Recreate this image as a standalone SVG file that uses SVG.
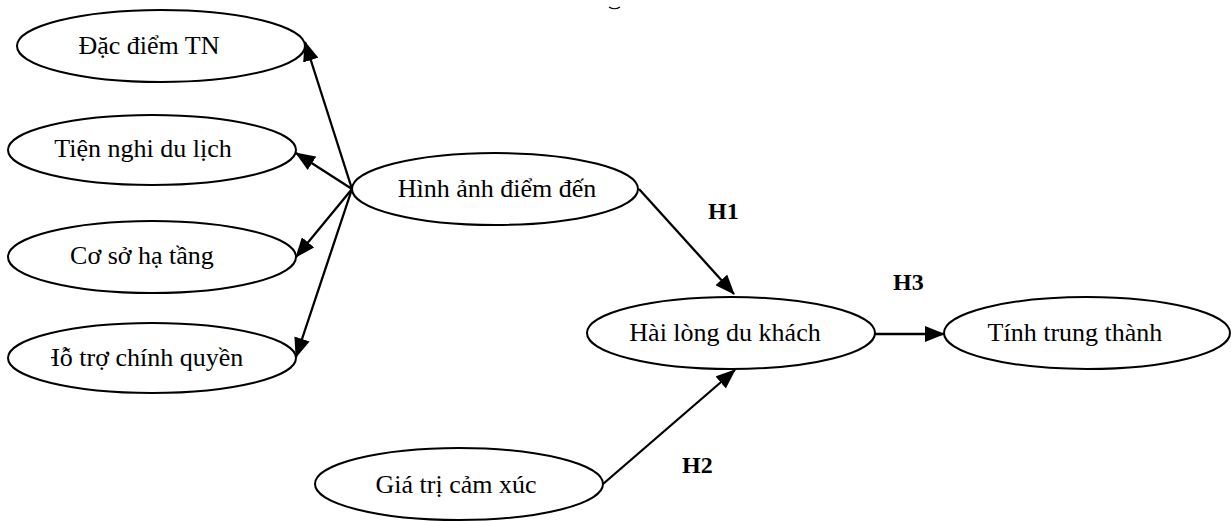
<svg xmlns="http://www.w3.org/2000/svg" width="1231" height="521" viewBox="0 0 1231 521">
<style>
.node ellipse{fill:#fff;stroke:#000;stroke-width:2}
.node text{font-family:"Liberation Serif","Times New Roman",serif;font-size:26px;fill:#000;text-anchor:middle}
.lbl{font-family:"Liberation Serif","Times New Roman",serif;font-size:24px;font-weight:bold;fill:#000}
.conn line{stroke:#000;stroke-width:2.3;marker-end:url(#ah)}
</style>
<defs>
<marker id="ah" markerUnits="userSpaceOnUse" markerWidth="20" markerHeight="16" refX="19" refY="8" orient="auto">
<path d="M0,0 L20,8 L0,16 Z" fill="#000"/>
</marker>
<clipPath id="clipHT"><rect x="51" y="300" width="300" height="120"/></clipPath>
</defs>
<rect width="1231" height="521" fill="#fff"/>
<path d="M609,7 Q614.5,10.5 620,7" fill="none" stroke="#000" stroke-width="1.2"/>
<g id="dac-diem-tn" class="node"><ellipse cx="161" cy="46" rx="144" ry="36"/><text x="149" y="54">Đặc điểm TN</text></g>
<g id="tien-nghi" class="node"><ellipse cx="152" cy="150" rx="144" ry="35"/><text x="143" y="157">Tiện nghi du lịch</text></g>
<g id="co-so-ha-tang" class="node"><ellipse cx="152" cy="257" rx="144" ry="36"/><text x="142" y="264">Cơ sở hạ tầng</text></g>
<g id="ho-tro" class="node"><ellipse cx="152" cy="358" rx="144" ry="35"/><text x="41" y="366" clip-path="url(#clipHT)" style="text-anchor:start">Hỗ trợ chính quyền</text></g>
<g id="hinh-anh" class="node"><ellipse cx="495" cy="189" rx="143" ry="36"/><text x="497" y="197">Hình ảnh điểm đến</text></g>
<g id="hai-long" class="node"><ellipse cx="731" cy="333" rx="144" ry="36"/><text x="725" y="341">Hài lòng du khách</text></g>
<g id="tinh-trung-thanh" class="node"><ellipse cx="1087" cy="333" rx="143" ry="36"/><text x="1075" y="341">Tính trung thành</text></g>
<g id="gia-tri" class="node"><ellipse cx="459" cy="484" rx="144" ry="36"/><text x="456" y="493">Giá trị cảm xúc</text></g>
<g id="connectors" class="conn">
<line x1="352" y1="189" x2="305" y2="42"/>
<line x1="352" y1="189" x2="296" y2="153"/>
<line x1="352" y1="189" x2="296" y2="257"/>
<line x1="352" y1="189" x2="296" y2="357"/>
<line x1="639" y1="189" x2="734" y2="294"/>
<line x1="603" y1="484" x2="735" y2="370"/>
<line x1="875" y1="334" x2="944" y2="334"/>
</g>
<g id="labels">
<text class="lbl" x="708" y="219">H1</text>
<text class="lbl" x="893" y="290">H3</text>
<text class="lbl" x="682" y="473">H2</text>
</g>
</svg>
